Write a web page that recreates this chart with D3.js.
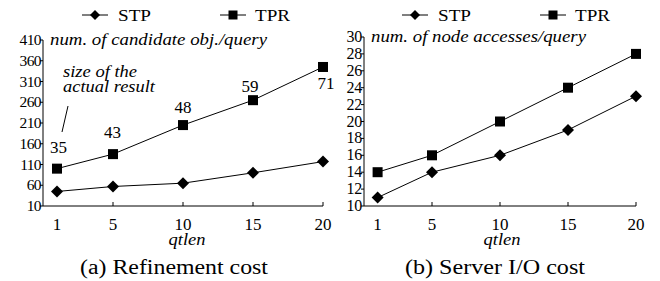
<!DOCTYPE html>
<html><head><meta charset="utf-8">
<script src="https://cdn.jsdelivr.net/npm/d3@7"></script>
<style>
body{margin:0;background:#fff}
</style></head>
<body><svg id="c" width="660" height="281"></svg>
<script>
const qtlen = [1, 5, 10, 15, 20];
const xTicks = [5, 10, 15, 20];
const xTickLabels = ["1", "5", "10", "15", "20"];
const refineSTP = [45, 57, 65, 90, 117];
const refineTPR = [100, 135, 205, 265, 345];
const resultSize = ["35", "43", "48", "59", "71"];
const ioSTP = [11, 14, 16, 19, 23];
const ioTPR = [14, 16, 20, 24, 28];
const refineYTicks = [10, 60, 110, 160, 210, 260, 310, 360, 410];
const ioYTicks = [10, 12, 14, 16, 18, 20, 22, 24, 26, 28, 30];
const seriesNames = ["STP", "TPR"];

const svg = d3.select("#c");
const FF = "'Liberation Serif', 'Times New Roman', Times, serif";

function txt(g, len){
  const t = g.append("text").attr("font-family",FF).attr("fill","#000");
  if(len) t.attr("textLength",len).attr("lengthAdjust","spacingAndGlyphs");
  return t;
}
function diamond(g, x, y, r){
  g.append("path").attr("d", `M${x},${y-r}L${x+r},${y}L${x},${y+r}L${x-r},${y}Z`).attr("fill","#000");
}
function square(g, x, y, r){
  g.append("rect").attr("x",x-r).attr("y",y-r).attr("width",2*r).attr("height",2*r).attr("fill","#000");
}

function panel(cfg){
  const g = svg.append("g");
  const x = d3.scaleLinear().domain([0,20]).range(cfg.xr);
  const y = d3.scaleLinear().domain(cfg.yd).range(cfg.yr);
  g.append("line").attr("x1",x(0)).attr("x2",x(0)).attr("y1",y(cfg.yd[0])).attr("y2",y(cfg.yd[1])).attr("stroke","#000");
  g.append("line").attr("x1",x(0)).attr("x2",x(20)).attr("y1",y(cfg.yd[0])).attr("y2",y(cfg.yd[0])).attr("stroke","#000");
  cfg.yTicks.forEach(t=>{
    g.append("line").attr("x1",x(0)-3).attr("x2",x(0)).attr("y1",y(t)).attr("y2",y(t)).attr("stroke","#000");
    txt(g).attr("x",x(0)-2).attr("y",y(t)+5).attr("text-anchor","end").attr("font-size",cfg.tickFs).attr("letter-spacing",cfg.tickLs).text(t);
  });
  xTicks.forEach(t=>{
    g.append("line").attr("x1",x(t)).attr("x2",x(t)).attr("y1",y(cfg.yd[0])).attr("y2",y(cfg.yd[0])-4).attr("stroke","#000");
  });
  qtlen.forEach((q,i)=>{
    txt(g).attr("x",x(q)).attr("y",230).attr("text-anchor","middle").attr("font-size",17).text(xTickLabels[i]);
  });
  txt(g, cfg.ylabelLen).attr("x",x(0)+7).attr("y",y(cfg.yd[1])+5).attr("font-size",17).attr("font-style","italic").text(cfg.ylabel);
  txt(g, 37).attr("x",cfg.qtX).attr("y",245).attr("text-anchor","middle").attr("font-size",17).attr("font-style","italic").text("qtlen");
  txt(g, cfg.capLen).attr("x",cfg.capX).attr("y",274).attr("text-anchor","middle").attr("font-size",20).text(cfg.caption);
  const line = d3.line().x((d,i)=>x(qtlen[i])).y(d=>y(d));
  [cfg.stp, cfg.tpr].forEach((s,k)=>{
    g.append("path").attr("d",line(s)).attr("fill","none").attr("stroke","#000").attr("stroke-width",1);
    s.forEach((v,i)=>{ if(k===0) diamond(g,x(qtlen[i]),y(v),6); else square(g,x(qtlen[i]),y(v),5); });
  });
  const lg = cfg.legend;
  g.append("line").attr("x1",lg[0]).attr("x2",lg[0]+26).attr("y1",15).attr("y2",15).attr("stroke","#000");
  diamond(g, lg[0]+13, 15, 5);
  txt(g, 33).attr("x",lg[0]+36).attr("y",21).attr("font-size",17).text(seriesNames[0]);
  g.append("line").attr("x1",lg[1]).attr("x2",lg[1]+26).attr("y1",15).attr("y2",15).attr("stroke","#000");
  square(g, lg[1]+13, 15, 4.5);
  txt(g, 35).attr("x",lg[1]+35).attr("y",21).attr("font-size",17).text(seriesNames[1]);
  return {g,x,y};
}

const A = panel({xr:[43,323], yd:[10,410], yr:[206,40], yTicks:refineYTicks, tickFs:15.5, tickLs:-0.6,
  ylabel:"num. of candidate obj./query", ylabelLen:217, qtX:187,
  caption:"(a) Refinement cost", capX:174, capLen:188, stp:refineSTP, tpr:refineTPR, legend:[82,220]});
const B = panel({xr:[364,636], yd:[10,30], yr:[206,37], yTicks:ioYTicks, tickFs:16, tickLs:-0.3,
  ylabel:"num. of node accesses/query", ylabelLen:215, qtX:502,
  caption:"(b) Server I/O cost", capX:495, capLen:180, stp:ioSTP, tpr:ioTPR, legend:[402,540]});

const offs = [[1.5,-15.5],[-0.5,-16],[0,-12],[-3,-8.5],[3,22]];
resultSize.forEach((s,i)=>{
  txt(A.g).attr("x",A.x(qtlen[i])+offs[i][0]).attr("y",A.y(refineTPR[i])+offs[i][1]).attr("text-anchor","middle").attr("font-size",17).text(s);
});
txt(A.g, 74).attr("x",63).attr("y",77).attr("font-size",17).attr("font-style","italic").text("size of the");
txt(A.g, 92).attr("x",63).attr("y",92).attr("font-size",17).attr("font-style","italic").text("actual result");
A.g.append("line").attr("x1",62).attr("y1",132).attr("x2",68).attr("y2",106).attr("stroke","#000");
</script></body></html>
